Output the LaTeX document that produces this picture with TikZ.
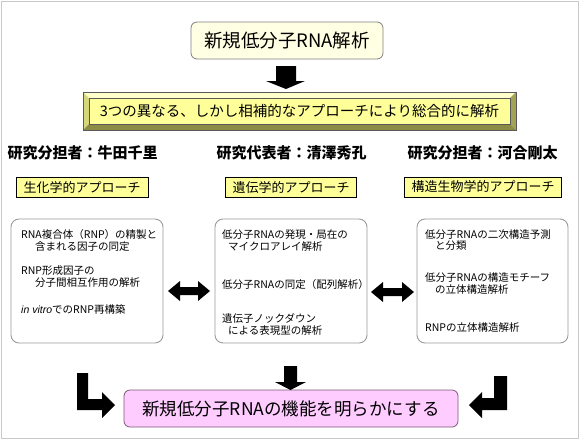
\documentclass[tikz,border=0pt]{standalone}
\usepackage{fontspec}
\setmainfont{Noto Sans CJK JP}
\newfontfamily\latinit{Liberation Sans}
\definecolor{paleyellow}{HTML}{FFFFE3}
\definecolor{boxyellow}{HTML}{FFFF99}
\definecolor{bevtop}{HTML}{FFFFCC}
\definecolor{bevleft}{HTML}{D6D67A}
\definecolor{bevright}{HTML}{A3A355}
\definecolor{bevbottom}{HTML}{8C8C45}
\definecolor{pinkfill}{HTML}{FFCCFF}
\definecolor{pinkdraw}{HTML}{7A5A78}
\definecolor{framegray}{HTML}{C8C8C8}
\definecolor{boxgray}{HTML}{9A9A9A}
\begin{document}
\begin{tikzpicture}[x=1pt,y=-1pt,
  titlebox/.style={draw=gray,fill=paleyellow,rounded corners=6pt,line width=0.8pt,minimum width=192pt,minimum height=37pt,inner sep=0pt,font=\fontsize{18.5}{20}\selectfont},
  header/.style={inner sep=0pt,font=\fontsize{15}{17}\selectfont\bfseries},
  approachbox/.style={draw=black,fill=boxyellow,line width=0.6pt,minimum height=20pt,inner sep=0pt,font=\fontsize{13}{15}\selectfont},
  contentbox/.style={draw=boxgray,rounded corners=8pt,line width=0.9pt},
  itemtext/.style={anchor=west,inner sep=0pt,font=\fontsize{10.5}{12}\selectfont},
  resultbox/.style={draw=pinkdraw,fill=pinkfill,rounded corners=6pt,line width=0.8pt,minimum width=334pt,minimum height=37pt,inner sep=0pt,font=\fontsize{17.5}{20}\selectfont},
  blockarrow/.style={fill=black,draw=none}
]
\useasboundingbox (0,0) rectangle (580,440);
\draw[framegray,line width=1pt] (1,1) rectangle (578.5,438.5);

% title
\node[titlebox] (title) at (287,40.5) {新規低分子RNA解析};

% bevel box
\fill[bevtop] (83,92) -- (516,92) -- (510,98) -- (89,98) -- cycle;
\fill[bevleft] (83,92) -- (89,98) -- (89,124) -- (83,130) -- cycle;
\fill[bevright] (516,92) -- (516,130) -- (510,124) -- (510,98) -- cycle;
\fill[bevbottom] (83,130) -- (516,130) -- (510,124) -- (89,124) -- cycle;
\fill[boxyellow] (89,98) rectangle (510,124);
\draw[gray!70!black,line width=0.5pt] (83,92) rectangle (516,130);
\draw[gray!70!black,line width=0.4pt] (89,98) rectangle (510,124);
\node[inner sep=0pt,font=\fontsize{14.5}{16}\selectfont] (approach) at (299.5,111) {3つの異なる、しかし相補的なアプローチにより総合的に解析};

% headers
\node[header] (h1) at (82.5,153) {研究分担者：牛田千里};
\node[header] (h2) at (291.5,153) {研究代表者：清澤秀孔};
\node[header] (h3) at (482.5,153) {研究分担者：河合剛太};

% approach boxes
\node[approachbox,minimum width=132pt] (a1) at (82,187.5) {生化学的アプローチ};
\node[approachbox,minimum width=131pt] (a2) at (291,187.5) {遺伝学的アプローチ};
\node[approachbox,minimum width=157pt] (a3) at (483,187) {構造生物学的アプローチ};

% content boxes
\draw[contentbox] (11,219) rectangle (163,343);
\draw[contentbox] (215,219) rectangle (367,343);
\draw[contentbox] (417,219) rectangle (568,343);
\coordinate (c1) at (87,281);
\coordinate (c2) at (291,281);
\coordinate (c3) at (492.5,281);

\node[itemtext] (l1) at (21,235) {RNA複合体（RNP）の精製と};
\node[itemtext] (l2) at (35,247) {含まれる因子の同定};
\node[itemtext] (l3) at (21,271) {RNP形成因子の};
\node[itemtext] (l4) at (35,283) {分子間相互作用の解析};
\node[itemtext] (l5) at (21,309) {{\latinit\itshape in vitro}でのRNP再構築};

\node[itemtext] (m1) at (222,235) {低分子RNAの発現・局在の};
\node[itemtext] (m2) at (228,247) {マイクロアレイ解析};
\node[itemtext] (m3) at (222,285) {低分子RNAの同定（配列解析）};
\node[itemtext] (m4) at (222,318) {遺伝子ノックダウン};
\node[itemtext] (m5) at (228,331) {による表現型の解析};

\node[itemtext] (r1) at (425,235) {低分子RNAの二次構造予測};
\node[itemtext] (r2) at (435,246) {と分類};
\node[itemtext] (r3) at (425,278) {低分子RNAの構造モチーフ};
\node[itemtext] (r4) at (435,290) {の立体構造解析};
\node[itemtext] (r5) at (425,328) {RNPの立体構造解析};

% result
\node[resultbox] (result) at (291,408.5) {新規低分子RNAの機能を明らかにする};

% block arrows
\fill[blockarrow] (276,66) -- (296,66) -- (296,81) -- (305,81) -- (286,89) -- (266,81) -- (276,81) -- cycle;
\fill[blockarrow] (284,366) -- (297,366) -- (297,382) -- (306,382) -- (290.5,390) -- (275,382) -- (284,382) -- cycle;
\fill[blockarrow] (168,291) -- (180,281) -- (180,287) -- (198,287) -- (198,281) -- (210,291) -- (198,301) -- (198,295) -- (180,295) -- (180,301) -- cycle;
\fill[blockarrow] (371,292) -- (383,282) -- (383,288) -- (402,288) -- (402,282) -- (414,292) -- (402,302) -- (402,296) -- (383,296) -- (383,302) -- cycle;
\fill[blockarrow] (77,373) -- (88,373) -- (88,399) -- (102,399) -- (102,392) -- (115,405) -- (102,418) -- (102,410) -- (77,410) -- cycle;
\fill[blockarrow] (494,376) -- (507,376) -- (507,410) -- (482,410) -- (482,418) -- (469,405) -- (482,392) -- (482,398) -- (494,398) -- cycle;
\end{tikzpicture}
\end{document}
